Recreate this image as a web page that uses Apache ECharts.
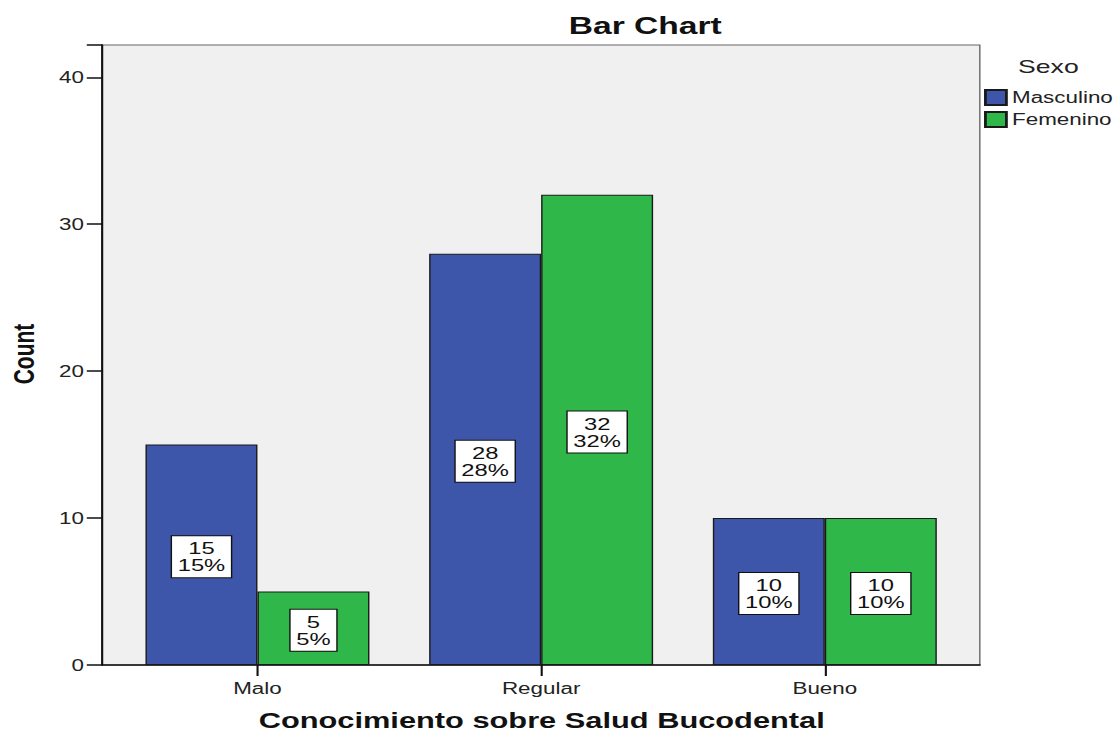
<!DOCTYPE html>
<html>
<head>
<meta charset="utf-8">
<script src="https://cdn.jsdelivr.net/npm/echarts@6/dist/echarts.min.js"></script>
<style>
  html, body { margin: 0; padding: 0; background: #fff; overflow: hidden; }
  #wrap { width: 1117px; height: 733px; overflow: hidden; }
  #chart { width: 798px; height: 733px; transform-origin: 0 0; transform: scaleX(1.39975); }
</style>
</head>
<body>
<div id="wrap"><div id="chart"></div></div>
<script>
const categories = ['Malo', 'Regular', 'Bueno'];
const seriesNames = ['Masculino', 'Femenino'];
const masculino = [15, 28, 10];
const femenino = [5, 32, 10];
const yTicks = [0, 10, 20, 30, 40];

const total = masculino.concat(femenino).reduce((a, b) => a + b, 0);
const FONT = '"Liberation Sans", Arial, sans-serif';

const chart = echarts.init(document.getElementById('chart'), null, { renderer: 'svg' });

function barLabel() {
  return {
    show: true,
    position: 'inside',
    formatter: p => p.value + '\n' + Math.round(p.value / total * 100) + '%',
    fontFamily: FONT,
    fontSize: 17,
    lineHeight: 17,
    color: '#111',
    backgroundColor: '#fff',
    borderColor: '#111',
    borderWidth: 1,
    padding: [4, 4, 3, 4],
    offset: [0, 2],
    align: 'center'
  };
}

chart.setOption({
  animation: false,
  backgroundColor: '#fff',
  grid: [
    { left: 73, top: 45, width: 627, height: 620, show: true, backgroundColor: '#F0F0F0', borderColor: '#666', borderWidth: 1 },
    { left: 82.6, top: 45, width: 608, height: 620 }
  ],
  xAxis: [
    { gridIndex: 0, type: 'value', min: 0, max: 1, axisLine: { show: true, lineStyle: { color: '#111', width: 1.5 } }, axisTick: { show: false }, axisLabel: { show: false }, splitLine: { show: false } },
    { gridIndex: 1, type: 'category', data: categories, axisLine: { show: false },
      axisTick: { show: true, alignWithLabel: true, length: 11, lineStyle: { color: '#111', width: 1.5 } },
      axisLabel: { fontFamily: FONT, fontSize: 16, color: '#222', margin: 15 } }
  ],
  yAxis: [
    { gridIndex: 0, type: 'value', min: 0, max: 42.2, interval: 10,
      axisLine: { show: true, lineStyle: { color: '#111', width: 1.5 } },
      axisTick: { show: true, length: 11, lineStyle: { color: '#111', width: 1.5 } },
      axisLabel: { fontFamily: FONT, fontSize: 16, color: '#222', margin: 13,
        formatter: v => (yTicks.indexOf(v) >= 0 ? String(v) : '') },
      splitLine: { show: false } },
    { gridIndex: 1, type: 'value', min: 0, max: 42.2, show: false, splitLine: { show: false } }
  ],
  legend: {
    orient: 'vertical',
    left: 703,
    top: 89,
    padding: 0,
    itemWidth: 15,
    itemHeight: 15,
    itemGap: 5,
    icon: 'rect',
    data: seriesNames,
    textStyle: { fontFamily: FONT, fontSize: 16, color: '#222', lineHeight: 15, padding: [0, 0, 0, -1] }
  },
  series: [
    { name: seriesNames[0], type: 'bar', xAxisIndex: 1, yAxisIndex: 1, data: masculino, barWidth: 80, barGap: '0%',
      itemStyle: { color: '#3D56A9', borderColor: '#1a1a1a', borderWidth: 1 }, label: barLabel() },
    { name: seriesNames[1], type: 'bar', xAxisIndex: 1, yAxisIndex: 1, data: femenino, barWidth: 80, barGap: '0%',
      itemStyle: { color: '#2FB74A', borderColor: '#1a1a1a', borderWidth: 1 }, label: barLabel() }
  ],
  graphic: [
    { type: 'text', x: 461, y: 26, style: { text: 'Bar Chart', font: 'bold 24px ' + FONT, fill: '#111', textAlign: 'center', textVerticalAlign: 'middle', align: 'center', verticalAlign: 'middle' } },
    { type: 'text', x: 387, y: 721, style: { text: 'Conocimiento sobre Salud Bucodental', font: 'bold 22px ' + FONT, fill: '#111', textAlign: 'center', textVerticalAlign: 'middle', align: 'center', verticalAlign: 'middle' } },
    { type: 'text', x: 17, y: 354, rotation: Math.PI / 2, style: { text: 'Count', font: 'bold 21px ' + FONT, fill: '#111', textAlign: 'center', textVerticalAlign: 'middle', align: 'center', verticalAlign: 'middle' } },
    { type: 'text', x: 749, y: 66, style: { text: 'Sexo', font: '19px ' + FONT, fill: '#222', textAlign: 'center', textVerticalAlign: 'middle', align: 'center', verticalAlign: 'middle' } }
  ]
});
</script>
</body>
</html>
